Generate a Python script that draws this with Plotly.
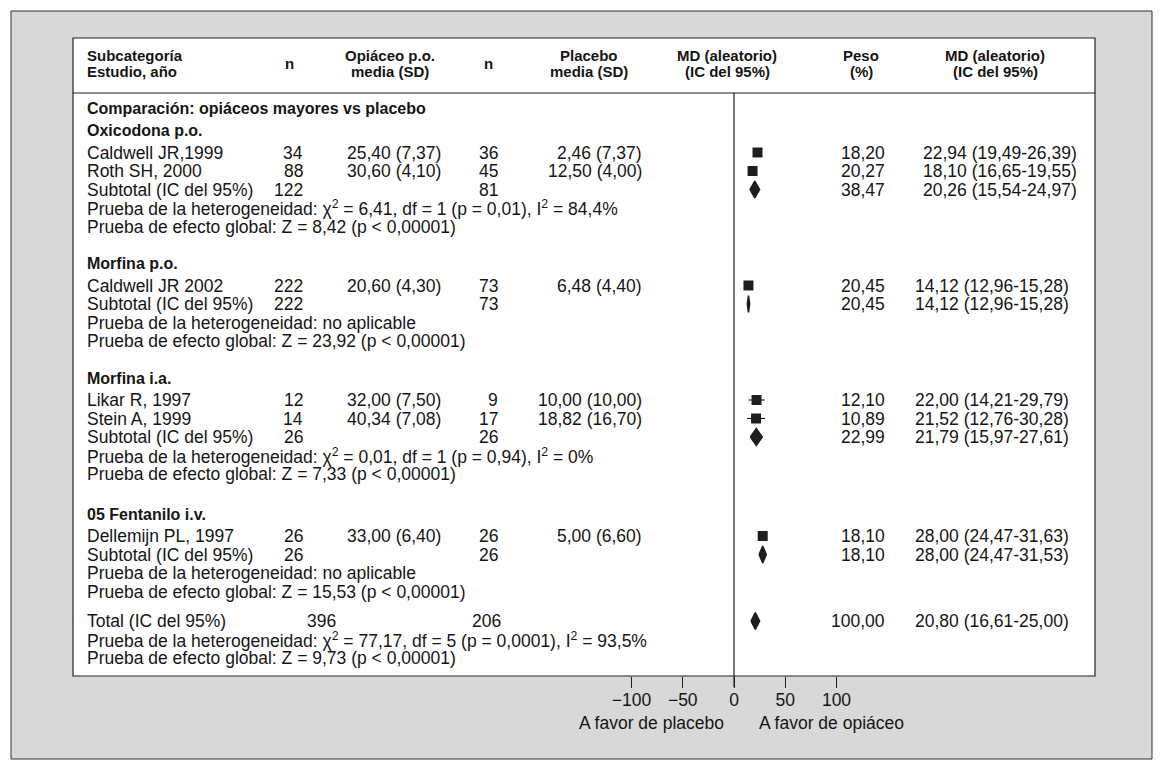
import plotly.graph_objects as go

# ---------------- data ----------------
group_names = ["Oxicodona p.o.", "Morfina p.o.", "Morfina i.a.", "05 Fentanilo i.v."]

study_names = ["Caldwell JR,1999", "Roth SH, 2000", "Caldwell JR 2002",
               "Likar R, 1997", "Stein A, 1999", "Dellemijn PL, 1997"]
study_group = [0, 0, 1, 2, 2, 3]
n_opi = [34, 88, 222, 12, 14, 26]
opi_mean = [25.40, 30.60, 20.60, 32.00, 40.34, 33.00]
opi_sd = [7.37, 4.10, 4.30, 7.50, 7.08, 6.40]
n_pla = [36, 45, 73, 9, 17, 26]
pla_mean = [2.46, 12.50, 6.48, 10.00, 18.82, 5.00]
pla_sd = [7.37, 4.00, 4.40, 10.00, 16.70, 6.60]
weight = [18.20, 20.27, 20.45, 12.10, 10.89, 18.10]
md = [22.94, 18.10, 14.12, 22.00, 21.52, 28.00]
ci_lo = [19.49, 16.65, 12.96, 14.21, 12.76, 24.47]
ci_hi = [26.39, 19.55, 15.28, 29.79, 30.28, 31.63]

sub_n_opi = [122, 222, 26, 26]
sub_n_pla = [81, 73, 26, 26]
sub_weight = [38.47, 20.45, 22.99, 18.10]
sub_md = [20.26, 14.12, 21.79, 28.00]
sub_lo = [15.54, 12.96, 15.97, 24.47]
sub_hi = [24.97, 15.28, 27.61, 31.53]
sub_het = ["χ<sup>2</sup> = 6,41, df = 1 (p = 0,01), I<sup>2</sup> = 84,4%",
           "no aplicable",
           "χ<sup>2</sup> = 0,01, df = 1 (p = 0,94), I<sup>2</sup> = 0%",
           "no aplicable"]
sub_z = ["8,42", "23,92", "7,33", "15,53"]

total_n_opi = 396
total_n_pla = 206
total_weight = 100.00
total_md = 20.80
total_lo = 16.61
total_hi = 25.00
total_het = "χ<sup>2</sup> = 77,17, df = 5 (p = 0,0001), I<sup>2</sup> = 93,5%"
total_z = "9,73"

tick_vals = [-100, -50, 0, 50, 100]
comparison_title = "Comparación: opiáceos mayores vs placebo"
left_label = "A favor de placebo"
right_label = "A favor de opiáceo"

# ---------------- layout helpers ----------------
W, H = 1163, 769
X0_PX = 734          # pixel of MD = 0
PX_PER_UNIT = 1.025
BODY_FONT = "Liberation Sans, Arial, sans-serif"
HEAD_FONT = "Liberation Sans, Arial, sans-serif"
INK = "#151515"
BODY_SIZE = 17.5


def fmt(v):
    return f"{v:.2f}".replace(".", ",")


def px(p):
    return p / W


annotations = []


def txt(x_px, y, s, anchor="left", bold=False, size=BODY_SIZE):
    annotations.append(dict(
        x=px(x_px), y=y, xref="paper", yref="y", text=s, showarrow=False,
        xanchor=anchor, yanchor="middle",
        font=dict(family=HEAD_FONT if bold else BODY_FONT, size=size, color=INK,
                  weight="bold" if bold else "normal"),
    ))


# column positions (pixels)
C_LABEL = 85
C_N1 = 305
C_OPI = 345
C_N2 = 500
C_PLA = 644
C_PESO = 887
C_MD = 913

# rows (pixel y from top)
P = 18.5
group_gaps = [37, 37, 40, 29.5]
rows_study = [None] * len(study_names)
rows_group = []
rows_sub = []
cur = 108
y_comp = cur
cur += 22.5
for g in range(len(group_names)):
    rows_group.append(cur)
    cur += 22
    for i, sg in enumerate(study_group):
        if sg == g:
            rows_study[i] = cur
            cur += P
    sub_y = cur
    rows_sub.append((sub_y, sub_y + P, sub_y + 2 * P))
    cur = sub_y + 2 * P + group_gaps[g]
y_total = (cur, cur + P, cur + 2 * P)

# ---------------- header ----------------
HS = 15
txt(C_LABEL, 55, "Subcategoría", bold=True, size=HS)
txt(C_LABEL, 71, "Estudio, año", bold=True, size=HS)
txt(289, 63, "n", "center", bold=True, size=HS)
txt(390, 55, "Opiáceo p.o.", "center", bold=True, size=HS)
txt(390, 71, "media (SD)", "center", bold=True, size=HS)
txt(488, 63, "n", "center", bold=True, size=HS)
txt(589, 55, "Placebo", "center", bold=True, size=HS)
txt(589, 71, "media (SD)", "center", bold=True, size=HS)
txt(727, 55, "MD (aleatorio)", "center", bold=True, size=HS)
txt(727, 71, "(IC del 95%)", "center", bold=True, size=HS)
txt(861, 55, "Peso", "center", bold=True, size=HS)
txt(861, 71, "(%)", "center", bold=True, size=HS)
txt(995, 55, "MD (aleatorio)", "center", bold=True, size=HS)
txt(995, 71, "(IC del 95%)", "center", bold=True, size=HS)

txt(C_LABEL, y_comp, comparison_title, bold=True, size=16)

# ---------------- body text ----------------
for g, name in enumerate(group_names):
    txt(C_LABEL, rows_group[g], name, bold=True, size=16)
    md_x = C_MD + (8 if g == 0 else 0)
    for i, sg in enumerate(study_group):
        if sg != g:
            continue
        y = rows_study[i]
        txt(C_LABEL, y, study_names[i])
        txt(C_N1, y, str(n_opi[i]), "right")
        txt(C_OPI, y, f"{fmt(opi_mean[i])} ({fmt(opi_sd[i])})")
        txt(C_N2, y, str(n_pla[i]), "right")
        txt(C_PLA, y, f"{fmt(pla_mean[i])} ({fmt(pla_sd[i])})", "right")
        txt(C_PESO, y, fmt(weight[i]), "right")
        txt(md_x, y, f"{fmt(md[i])} ({fmt(ci_lo[i])}-{fmt(ci_hi[i])})")
    ys, yh, yz = rows_sub[g]
    txt(C_LABEL, ys, "Subtotal (IC del 95%)")
    txt(C_N1, ys, str(sub_n_opi[g]), "right")
    txt(C_N2, ys, str(sub_n_pla[g]), "right")
    txt(C_PESO, ys, fmt(sub_weight[g]), "right")
    txt(md_x, ys, f"{fmt(sub_md[g])} ({fmt(sub_lo[g])}-{fmt(sub_hi[g])})")
    txt(C_LABEL, yh, "Prueba de la heterogeneidad: " + sub_het[g])
    txt(C_LABEL, yz, f"Prueba de efecto global: Z = {sub_z[g]} (p &lt; 0,00001)")

yt, yth, ytz = y_total
txt(C_LABEL, yt, "Total (IC del 95%)")
txt(338, yt, str(total_n_opi), "right")
txt(503, yt, str(total_n_pla), "right")
txt(C_PESO, yt, fmt(total_weight), "right")
txt(C_MD, yt, f"{fmt(total_md)} ({fmt(total_lo)}-{fmt(total_hi)})")
txt(C_LABEL, yth, "Prueba de la heterogeneidad: " + total_het)
txt(C_LABEL, ytz, f"Prueba de efecto global: Z = {total_z} (p &lt; 0,00001)")

# axis side labels
txt(726, 723, left_label, "right")
txt(757, 723, right_label, "left")

# ---------------- figure ----------------
fig = go.Figure()

# study squares with CI
fig.add_trace(go.Scatter(
    x=md, y=rows_study, mode="markers",
    marker=dict(symbol="square", size=10, color="#1e1e1e"),
    error_x=dict(type="data", symmetric=False,
                 array=[h - m for h, m in zip(ci_hi, md)],
                 arrayminus=[m - l for m, l in zip(md, ci_lo)],
                 width=0, thickness=1.2, color="#1e1e1e"),
    hoverinfo="skip", showlegend=False,
))

# diamonds for subtotals and total
DH = 8.5
diamonds = [(sub_md[g], sub_lo[g], sub_hi[g], rows_sub[g][0]) for g in range(len(group_names))]
diamonds.append((total_md, total_lo, total_hi, yt))
for m, lo, hi, y in diamonds:
    fig.add_trace(go.Scatter(
        x=[lo, m, hi, m, lo], y=[y, y - DH, y, y + DH, y],
        mode="lines", fill="toself", fillcolor="#1e1e1e",
        line=dict(color="#1e1e1e", width=1.5),
        hoverinfo="skip", showlegend=False,
    ))

shapes = [
    # outer grey panel
    dict(type="rect", xref="paper", yref="y", x0=px(11), x1=px(1152), y0=11, y1=759,
         fillcolor="#d8d8d8", line=dict(color="#333333", width=1), layer="below"),
    # white table box
    dict(type="rect", xref="paper", yref="y", x0=px(73), x1=px(1095), y0=38, y1=676,
         fillcolor="white", line=dict(color="#222222", width=1.2), layer="below"),
    # header separator
    dict(type="line", xref="paper", yref="y", x0=px(73), x1=px(1095), y0=93, y1=93,
         line=dict(color="#222222", width=1.2)),
    # zero line
    dict(type="line", xref="x", yref="y", x0=0, x1=0, y0=93, y1=687,
         line=dict(color="#222222", width=1.2)),
]

fig.update_layout(
    width=W, height=H, margin=dict(l=0, r=0, t=0, b=0),
    paper_bgcolor="white", plot_bgcolor="rgba(0,0,0,0)",
    shapes=shapes, annotations=annotations,
    xaxis=dict(range=[-X0_PX / PX_PER_UNIT, (W - X0_PX) / PX_PER_UNIT],
               domain=[0, 1], anchor="free", position=1 - 676 / H,
               tickvals=tick_vals, ticks="outside", ticklen=11, tickwidth=1,
               ticklabelstandoff=-3,
               tickcolor="#222222", showgrid=False, zeroline=False, showline=False,
               tickfont=dict(family=BODY_FONT, size=17.5, color=INK), fixedrange=True),
    yaxis=dict(range=[H, 0], domain=[0, 1], visible=False, fixedrange=True),
)

fig.write_html("out.html",
               config={"displayModeBar": False, "staticPlot": True},
               post_script="document.body.style.margin='0';document.body.style.overflow='hidden';")
